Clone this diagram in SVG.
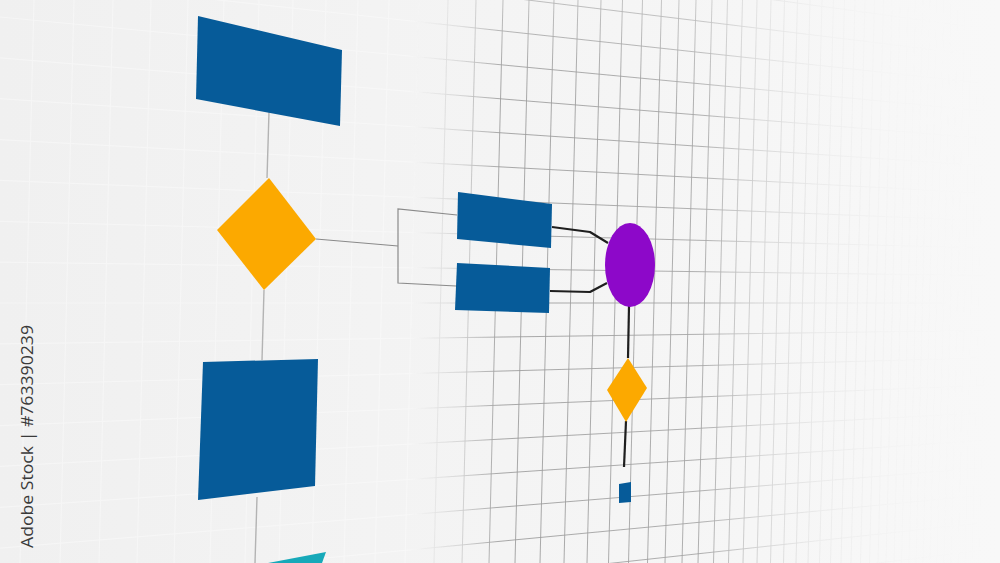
<svg xmlns="http://www.w3.org/2000/svg" width="1000" height="563" viewBox="0 0 1000 563">
  <defs>
    <style>
      .blue { fill: #065b99; }
      .orange { fill: #fca900; }
      .purple { fill: #8d08c9; }
      .teal { fill: #17a9b9; }
      .gline { stroke: #9a9a9a; stroke-width: 0.85; fill: none; }
      .wline { stroke: #ffffff; stroke-width: 1.2; fill: none; }
      .conn-light { stroke: #b3b3b3; stroke-width: 1.4; fill: none; }
      .conn-grey { stroke: #8a8a8a; stroke-width: 1.2; fill: none; }
      .conn-dark { stroke: #1e1e1e; stroke-width: 2.2; fill: none; stroke-linejoin: round; }
      .wm { font-family: "Open Sans", "Liberation Sans", sans-serif; font-size: 17px; fill: #3a3a3a; }
    </style>
    <linearGradient id="bg" x1="0" y1="0" x2="1000" y2="0" gradientUnits="userSpaceOnUse">
      <stop offset="0" stop-color="#f0f0f0"/>
      <stop offset="0.5" stop-color="#f4f4f4"/>
      <stop offset="1" stop-color="#f8f8f8"/>
    </linearGradient>
    <linearGradient id="fade" x1="0" y1="0" x2="1000" y2="0" gradientUnits="userSpaceOnUse">
      <stop offset="0.41" stop-color="#fff" stop-opacity="0"/>
      <stop offset="0.46" stop-color="#fff" stop-opacity="0.4"/>
      <stop offset="0.50" stop-color="#fff" stop-opacity="1"/>
      <stop offset="0.70" stop-color="#fff" stop-opacity="0.9"/>
      <stop offset="0.76" stop-color="#fff" stop-opacity="0.4"/>
      <stop offset="0.82" stop-color="#fff" stop-opacity="0.14"/>
      <stop offset="0.90" stop-color="#fff" stop-opacity="0.04"/>
      <stop offset="1" stop-color="#fff" stop-opacity="0"/>
    </linearGradient>
    <radialGradient id="vfade" cx="560" cy="360" r="520" gradientUnits="userSpaceOnUse">
      <stop offset="0" stop-color="#fff" stop-opacity="1"/>
      <stop offset="0.55" stop-color="#fff" stop-opacity="1"/>
      <stop offset="0.8" stop-color="#fff" stop-opacity="0.5"/>
      <stop offset="1" stop-color="#fff" stop-opacity="0.2"/>
    </radialGradient>
    <linearGradient id="fadeLeft" x1="0" y1="0" x2="1000" y2="0" gradientUnits="userSpaceOnUse">
      <stop offset="0" stop-color="#fff" stop-opacity="0.35"/>
      <stop offset="0.42" stop-color="#fff" stop-opacity="0.35"/>
      <stop offset="0.48" stop-color="#fff" stop-opacity="0"/>
    </linearGradient>
    <mask id="gridMask" maskUnits="userSpaceOnUse" x="0" y="0" width="1000" height="563">
      <rect x="0" y="0" width="1000" height="563" fill="url(#fade)"/>
    </mask>
    <mask id="vMask" maskUnits="userSpaceOnUse" x="0" y="0" width="1000" height="563">
      <rect x="0" y="0" width="1000" height="563" fill="url(#vfade)"/>
    </mask>
    <mask id="leftMask" maskUnits="userSpaceOnUse" x="0" y="0" width="1000" height="563">
      <rect x="0" y="0" width="1000" height="563" fill="url(#fadeLeft)"/>
    </mask>
    <g id="gridLines">
      <path d="M0,-146.4 L1000,3.4 M0,-105.5 L1000,30.6 M0,-64.7 L1000,57.9 M0,-23.8 L1000,85.1 M0,17 L1000,112.4 M0,57.9 L1000,139.6 M0,98.7 L1000,166.8 M0,139.6 L1000,194.1 M0,180.4 L1000,221.3 M0,221.3 L1000,248.5 M0,262.1 L1000,275.8 M0,303 L1000,303 M0,343.9 L1000,330.2 M0,384.7 L1000,357.5 M0,425.6 L1000,384.7 M0,466.4 L1000,411.9 M0,507.3 L1000,439.2 M0,548.1 L1000,466.4 M0,589 L1000,493.6 M0,629.8 L1000,520.9 M0,670.7 L1000,548.1 M0,711.5 L1000,575.4"/>
      <path d="M34,0 l-14,563 M74,0 l-14,563 M113,0 l-14,563 M151,0 l-14,563 M188,0 l-14,563 M224,0 l-14,563 M259,0 l-14,563 M293,0 l-14,563 M326,0 l-14,563 M358,0 l-14,563 M389,0 l-14,563 M419,0 l-14,563 M448,0 l-14,563 M476,0 l-14,563 M503,0 l-14,563 M529,0 l-14,563 M554,0 l-14,563 M578,0 l-14,563 M601,0 l-14,563 M622.5,0 l-14,563 M642.5,0 l-14,563 M661.5,0 l-14,563 M679,0 l-14,563 M696,0 l-14,563 M712,0 l-14,563 M727.5,0 l-14,563 M742.5,0 l-14,563 M757,0 l-14,563 M771,0 l-14,563 M784.5,0 l-14,563 M797.5,0 l-14,563 M810,0 l-14,563 M822,0 l-14,563 M833.5,0 l-14,563 M844.5,0 l-14,563 M855,0 l-14,563 M865,0 l-14,563 M874.5,0 l-14,563 M883.5,0 l-14,563 M892,0 l-14,563 M900,0 l-14,563 M908,0 l-14,563 M915.5,0 l-14,563 M923,0 l-14,563 M930,0 l-14,563 M937,0 l-14,563 M944,0 l-14,563 M951,0 l-14,563 M958,0 l-14,563 M965,0 l-14,563 M972,0 l-14,563 M979,0 l-14,563 M986,0 l-14,563 M993,0 l-14,563 M1000,0 l-14,563 M1007,0 l-14,563 M1014,0 l-14,563"/>
    </g>
  </defs>

  <rect x="0" y="0" width="1000" height="563" fill="url(#bg)"/>

  <g id="grid">
    <use href="#gridLines" class="wline" mask="url(#leftMask)"/>
    <g mask="url(#vMask)">
      <use href="#gridLines" class="gline" mask="url(#gridMask)"/>
    </g>
  </g>

  <g id="connectors">
    <path class="conn-light" d="M269,112 L267,178"/>
    <path class="conn-light" d="M264,290 L262,360"/>
    <path class="conn-light" d="M257,497 L255,563"/>
    <path class="conn-grey" d="M316,239 L398,246"/>
    <path class="conn-grey" d="M457,215 L398,209 L398,283 L456,286"/>
    <path class="conn-dark" d="M552,227 L590,232 L608,243"/>
    <path class="conn-dark" d="M550,291 L590,292 L607,283"/>
    <path class="conn-dark" d="M629,306 L628,358"/>
    <path class="conn-dark" d="M626,421 L624,467"/>
  </g>

  <g id="node-top-rect">
    <polygon class="blue" points="198,16 342,50 340,126 196,99"/>
  </g>
  <g id="node-decision">
    <polygon class="orange" points="269,178 316,239 264,290 217,230"/>
  </g>
  <g id="node-big-square">
    <polygon class="blue" points="203,362 318,359 315,486 198,500"/>
  </g>
  <g id="node-teal">
    <polygon class="teal" points="268,563 326,552 322,563"/>
  </g>
  <g id="node-rect-a">
    <polygon class="blue" points="458,192 552,204 551,248 457,239"/>
  </g>
  <g id="node-rect-b">
    <polygon class="blue" points="457,263 550,268 549,313 455,310"/>
  </g>
  <g id="node-ellipse">
    <ellipse class="purple" cx="630" cy="265" rx="25" ry="42"/>
  </g>
  <g id="node-small-decision">
    <polygon class="orange" points="628,358 647,388 626,422 607,390"/>
  </g>
  <g id="node-small-square">
    <polygon class="blue" points="619,484 631,482 631,502 619,503"/>
  </g>

  <text class="wm" transform="translate(33,548) rotate(-90)" textLength="223" lengthAdjust="spacingAndGlyphs">Adobe Stock | #763390239</text>
</svg>
